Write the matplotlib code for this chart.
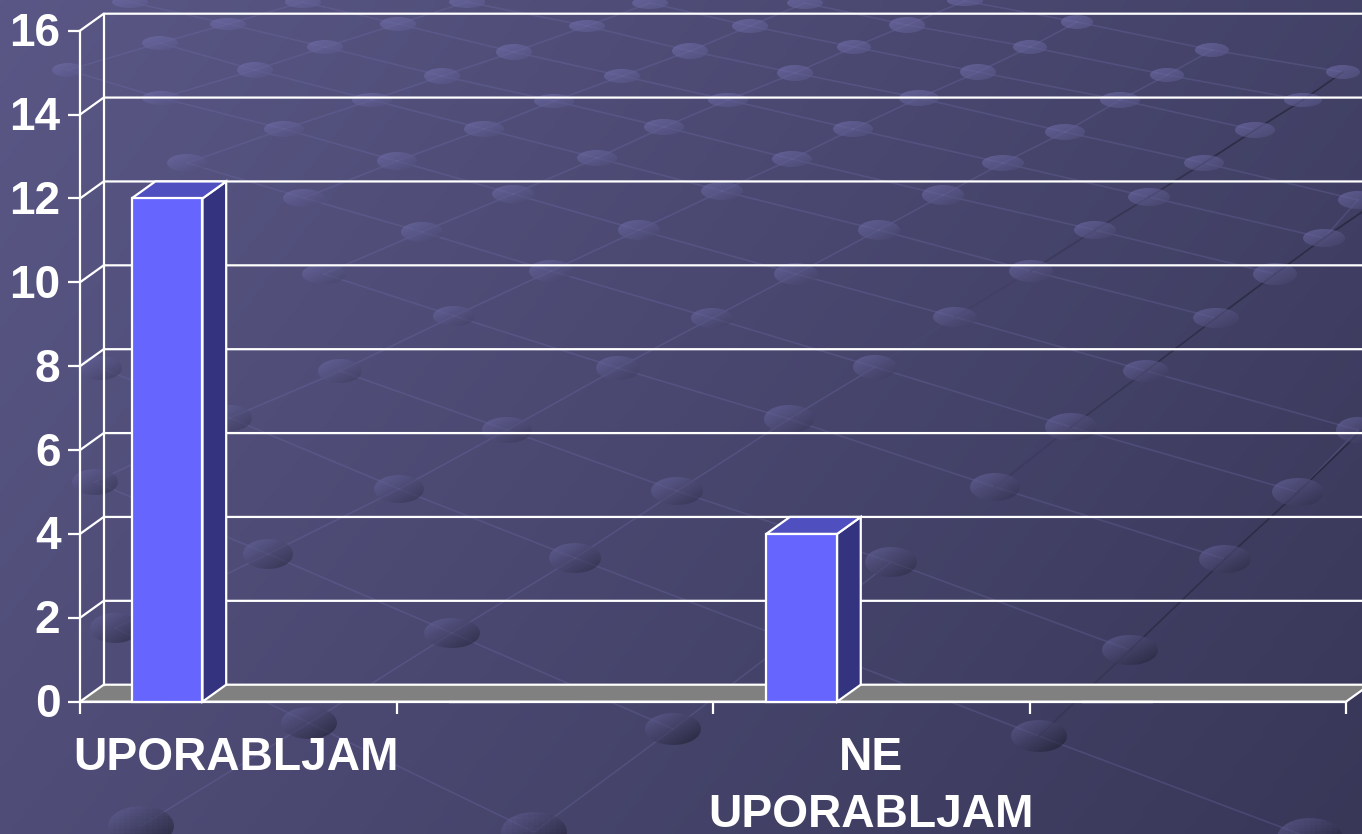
import numpy as np
import matplotlib
matplotlib.use('Agg')
import matplotlib.pyplot as plt
from matplotlib.patches import Ellipse, Polygon
from matplotlib.transforms import ScaledTranslation

plt.rcParams['font.family'] = ['Liberation Sans', 'DejaVu Sans']

# chart data
categories = ['UPORABLJAM', '', 'NE\nUPORABLJAM', '']
values = [12, 0, 4, 0]
y_ticks = [0, 2, 4, 6, 8, 10, 12, 14, 16]

# background dots, one list per row (x, y, width, height in pixels)
dot_rows = [
    [(130, 2, 36, 12), (303, 2, 36, 12), (467, 2, 36, 12), (650, 3, 36, 12), (805, 3, 36, 12), (965, 1, 36, 10)],
    [(228, 24, 36, 12), (398, 24, 36, 14), (587, 26, 36, 12), (750, 26, 36, 14), (907, 25, 36, 16), (1077, 22, 32, 14)],
    [(160, 43, 36, 14), (325, 47, 36, 14), (514, 52, 36, 16), (690, 51, 36, 16), (854, 47, 34, 14), (1030, 47, 34, 14), (1212, 50, 34, 14)],
    [(68, 70, 32, 14), (255, 70, 36, 16), (442, 76, 36, 16), (622, 76, 36, 14), (795, 73, 36, 16), (978, 72, 36, 16), (1167, 75, 34, 14), (1343, 72, 34, 14)],
    [(161, 98, 38, 14), (372, 100, 40, 14), (554, 101, 40, 14), (728, 100, 40, 14), (919, 98, 40, 16), (1120, 100, 40, 16), (1303, 100, 38, 14)],
    [(284, 129, 40, 16), (484, 129, 40, 16), (664, 127, 40, 16), (853, 129, 40, 16), (1065, 132, 40, 16), (1255, 130, 40, 16)],
    [(187, 163, 40, 18), (397, 161, 40, 18), (597, 158, 40, 16), (792, 159, 40, 16), (1003, 163, 42, 16), (1204, 163, 40, 16)],
    [(304, 198, 42, 18), (513, 194, 42, 18), (722, 191, 42, 18), (943, 195, 42, 20), (1149, 197, 42, 18), (1358, 200, 40, 18)],
    [(422, 232, 42, 20), (639, 230, 42, 20), (879, 230, 42, 20), (1095, 230, 42, 18), (1324, 238, 42, 18)],
    [(324, 274, 44, 20), (551, 271, 44, 22), (796, 274, 44, 22), (1031, 271, 44, 22), (1275, 274, 44, 22)],
    [(454, 316, 42, 20), (712, 318, 42, 20), (955, 317, 44, 20), (1216, 318, 46, 20)],
    [(100, 368, 44, 24), (340, 371, 44, 24), (618, 368, 44, 24), (875, 367, 44, 24), (1146, 371, 46, 22)],
    [(230, 418, 44, 26), (507, 430, 50, 26), (789, 419, 50, 28), (1071, 427, 52, 28), (1358, 430, 44, 26)],
    [(95, 482, 46, 26), (399, 489, 50, 28), (677, 491, 52, 28), (995, 487, 50, 28), (1298, 492, 52, 28)],
    [(268, 554, 50, 30), (575, 558, 52, 30), (891, 562, 52, 30), (1225, 559, 52, 28)],
    [(115, 628, 50, 30), (452, 633, 56, 30), (790, 640, 50, 30), (1130, 650, 56, 30)],
    [(309, 723, 56, 32), (673, 729, 56, 32), (1039, 736, 56, 32)],
    [(141, 826, 66, 40), (534, 832, 66, 40), (1310, 838, 66, 40)],
]

# the three darker diagonals on the right of the background
dark_lines = [
    [(1343, 72), (1303, 100), (1255, 130), (1204, 163), (1149, 197), (1095, 230), (1031, 271), (955, 317), (875, 367)],
    [(1362, 212), (1324, 238), (1275, 274), (1216, 318), (1146, 371), (1071, 427), (995, 487), (891, 562)],
    [(1362, 430), (1298, 492), (1225, 559), (1130, 650), (1039, 736)],
]

fig = plt.figure(figsize=(13.62, 8.34), dpi=100)

# background picture, in pixel coordinates
bg = fig.add_axes([0, 0, 1, 1])
bg.set_xlim(0, 1362)
bg.set_ylim(834, 0)
bg.axis('off')

yy, xx = np.mgrid[0:834:4, 0:1362:4]
t = (xx / 1362 * 0.68 + yy / 834 * 0.32)[..., None]
col_a = np.array([0x5a, 0x57, 0x86]) / 255
col_b = np.array([0x38, 0x37, 0x58]) / 255
bg.imshow(col_a * (1 - t) + col_b * t, extent=(0, 1362, 834, 0), aspect='auto', zorder=0)

# faint lines between the rows of dots
for i in range(len(dot_rows) - 1):
    for d in dot_rows[i]:
        right = [n for n in dot_rows[i + 1] if n[0] > d[0]]
        left = [n for n in dot_rows[i + 1] if n[0] < d[0]]
        for n in right[:1] + left[-1:]:
            if abs(n[0] - d[0]) < 300:
                bg.plot([d[0], n[0]], [d[1], n[1]], color='#6f6da8', alpha=0.3, lw=1.2, zorder=1)

# these get darker towards the right edge
for chain in dark_lines:
    for (x0, y0), (x1, y1) in zip(chain[:-1], chain[1:]):
        a = np.clip((x0 - 850) / 450, 0.1, 0.9)
        bg.plot([x0, x1], [y0, y1], color='#2a2940', alpha=a, lw=1.3, zorder=1.5)

# dots, lighter on the upper left, darker on the lower right
shade = np.linspace(0, 1, 12)[:, None] * 0.5 + np.linspace(0, 1, 12)[None, :] * 0.5
for row in dot_rows:
    for x, y, w, h in row:
        k = min(y / 834 * 1.1, 1)
        rgba = np.zeros((12, 12, 4))
        rgba[..., :3] = np.array([0.46, 0.45, 0.70])[None, None, :] * (1 - shade[..., None] * (0.2 + 0.5 * k) - 0.12 * k)
        rgba[..., 3] = 0.6
        el = Ellipse((x, y), w, h, transform=bg.transData, facecolor='none', edgecolor='none')
        bg.add_patch(el)
        im = bg.imshow(rgba, extent=(x - w / 2, x + w / 2, y + h / 2, y - h / 2), aspect='auto', zorder=2)
        im.set_clip_path(el)
bg.set_xlim(0, 1362)
bg.set_ylim(834, 0)

# the chart itself
ax = fig.add_axes([80 / 1362, (834 - 701.7) / 834, 1266 / 1362, 671 / 834])
ax.patch.set_alpha(0)
ax.set_xlim(0, 4)
ax.set_ylim(0, 16)

depth_x = 23.7 / 316.5
depth_y = 17 / 41.94
line_w = 1.6

# floor
ax.add_patch(Polygon([(0, 0), (4, 0), (4 + depth_x, depth_y), (depth_x, depth_y)],
                     facecolor='#808080', edgecolor='none', clip_on=False, zorder=1))
ax.plot([0, 4, 4 + depth_x], [0, 0, depth_y], color='white', lw=line_w, clip_on=False, zorder=1.5)

# back wall and gridlines
for v in y_ticks:
    ax.plot([0, depth_x, 4 + depth_x], [v, v + depth_y, v + depth_y], color='white',
            lw=line_w, clip_on=False, zorder=1.5)
ax.plot([depth_x, depth_x], [depth_y, 16 + depth_y], color='white', lw=line_w, clip_on=False, zorder=1.5)

# 3d bars
bar_x = np.arange(len(values)) + np.array([0.163, 0.165, 0.168, 0.165])
bar_w = 0.224
for x, v in zip(bar_x, values):
    if v == 0:
        continue
    ax.add_patch(Polygon([(x + bar_w, 0), (x + bar_w + depth_x, depth_y), (x + bar_w + depth_x, v + depth_y), (x + bar_w, v)],
                         facecolor='#333380', edgecolor='white', lw=line_w, clip_on=False, zorder=3))
    ax.add_patch(Polygon([(x, v), (x + bar_w, v), (x + bar_w + depth_x, v + depth_y), (x + depth_x, v + depth_y)],
                         facecolor='#4f4fbf', edgecolor='white', lw=line_w, clip_on=False, zorder=3))
ax.bar(bar_x, values, bar_w, align='edge', color='#6666ff', edgecolor='white', lw=line_w, clip_on=False, zorder=4)

for s in ['top', 'right']:
    ax.spines[s].set_visible(False)
for s in ['left', 'bottom']:
    ax.spines[s].set_color('white')
    ax.spines[s].set_linewidth(line_w)

ax.set_yticks(y_ticks)
ax.set_xticks(range(5))
ax.set_xticklabels([])
ax.tick_params(axis='both', which='major', colors='white', width=line_w, length=8.6)
ax.tick_params(axis='y', pad=5.5, labelsize=33)
up = ScaledTranslation(0, 1.5 / 100, fig.dpi_scale_trans)
for lab in ax.get_yticklabels():
    lab.set_fontweight('bold')
    lab.set_transform(lab.get_transform() + up)

# category names sit between the ticks
ax.set_xticks(np.arange(len(categories)) + np.array([0.492, 0.5, 0.5, 0.5]), minor=True)
ax.set_xticklabels(categories, minor=True, fontsize=33.2, fontweight='bold', color='white', linespacing=1.36)
ax.tick_params(axis='x', which='minor', length=0, pad=25)

fig.savefig('out.png', dpi=100)
